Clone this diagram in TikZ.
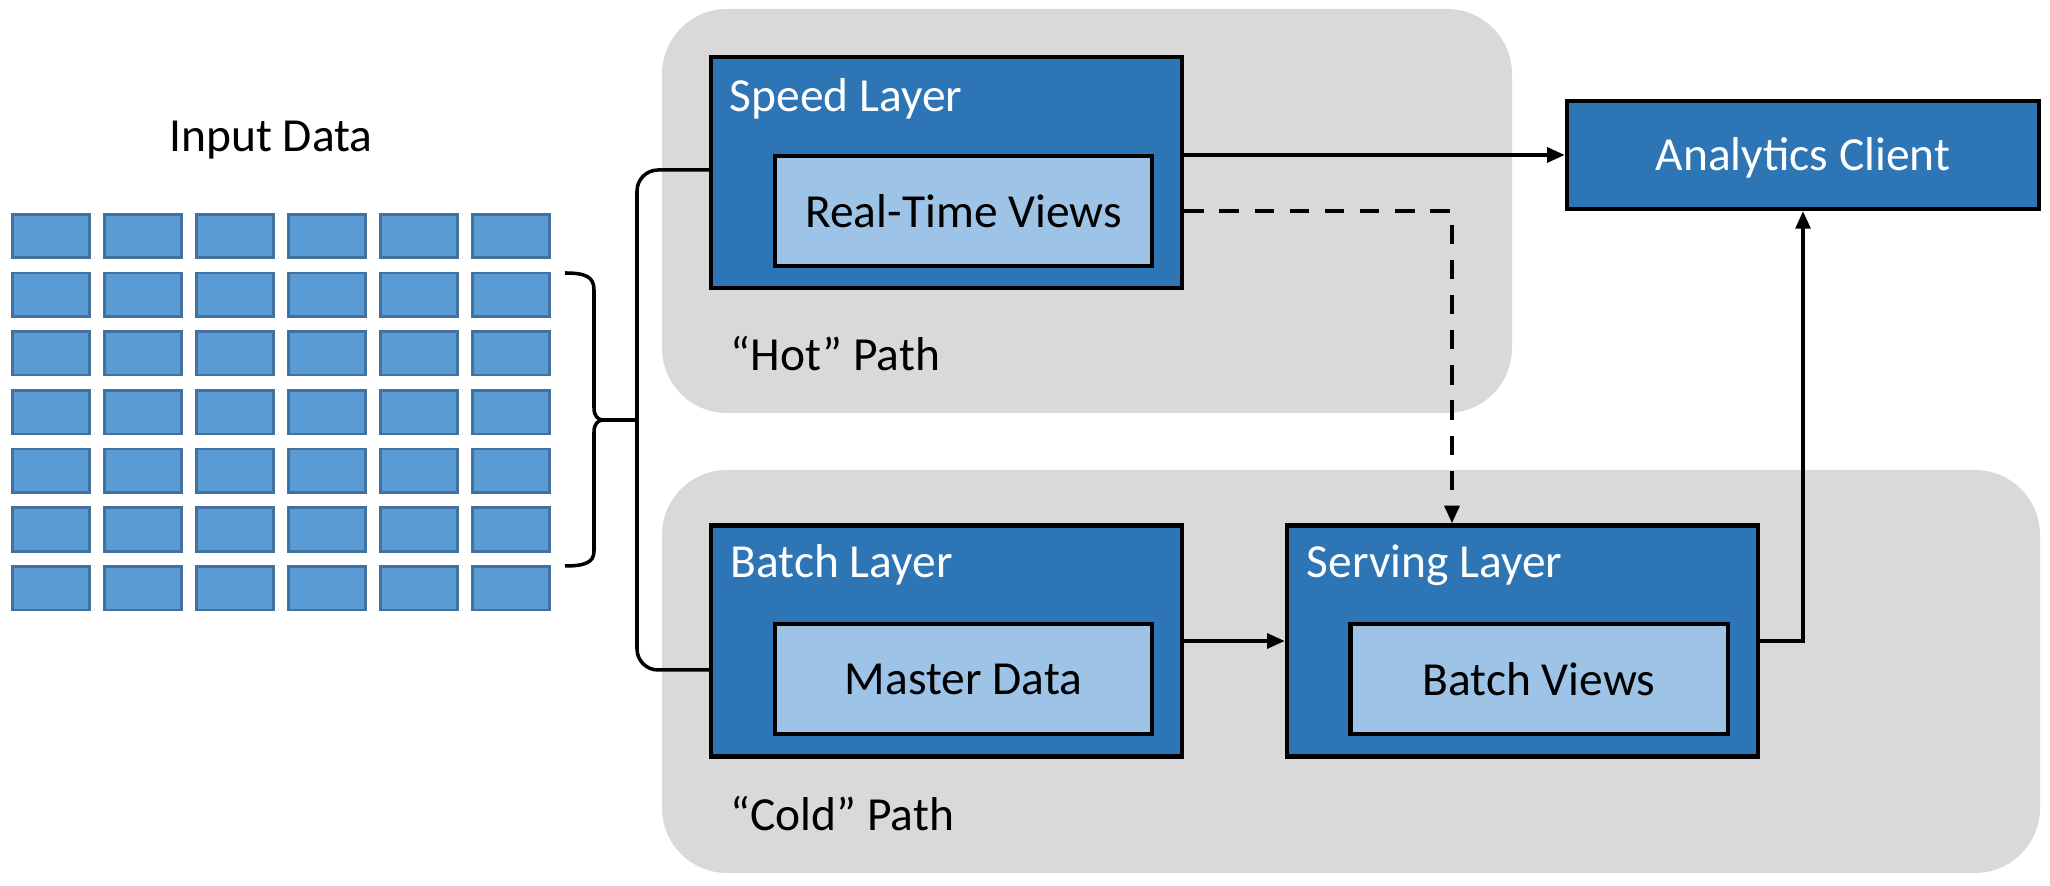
\documentclass[tikz,border=0pt]{standalone}
\usepackage{fontspec}
\setmainfont{Carlito}
\usetikzlibrary{arrows.meta}
\definecolor{layerblue}{HTML}{2E75B6}
\definecolor{viewblue}{HTML}{9DC3E6}
\definecolor{cellblue}{HTML}{5B9BD5}
\definecolor{celledge}{HTML}{41719C}
\definecolor{zonegray}{HTML}{D9D9D9}

\begin{document}
\begin{tikzpicture}[x=0.01cm, y=-0.01cm,
    every node/.style={font=\fontsize{13.5pt}{16pt}\selectfont},
    zone/.style={fill=zonegray, rounded corners=0.65cm},
    cell/.style={draw=celledge, fill=cellblue, line width=0.75pt, inner sep=0, minimum width=0.775cm, minimum height=0.435cm},
    layer/.style={draw=black, fill=layerblue, line width=1.2pt, inner sep=0, minimum width=4.71cm, minimum height=2.31cm},
    view/.style={draw=black, fill=viewblue, line width=1.2pt, inner sep=0, minimum width=3.77cm, minimum height=1.1cm},
    lbl/.style={anchor=base west, inner sep=0, text=white},
    conn/.style={line width=1pt, -{Triangle[length=5pt, width=4.2pt]}}]
        \useasboundingbox (0,0) rectangle (2050,886);
        \path[zone] (662,9) rectangle (1512,413);
        \path[zone] (662,470) rectangle (2040,873);
        \node (input) at (271,140) {Input Data};
        \foreach \i in {0,...,5}
            \foreach \j in {0,...,6}
                \node[cell] (c\i\j) at (51+92*\i, 236+58.7*\j) {};
        \node[layer] (speed) at (946.5,172.5) {};
        \node[view] (rtv) at (963.5,211) {Real-Time Views};
        \node[lbl] (speedlbl) at (729,112) {Speed Layer};
        \node[anchor=base west, inner sep=0] (hot) at (730,371) {“Hot” Path};
        \node[layer] (batch) at (946.5,641) {};
        \node[view] (master) at (963.5,679) {Master Data};
        \node[lbl] (batchlbl) at (730,578) {Batch Layer};
        \node[anchor=base west, inner sep=0] (cold) at (730,831) {“Cold” Path};
        \node[layer] (serving) at (1522.5,641) {};
        \node[view] (bviews) at (1539,679) {Batch Views};
        \node[lbl] (servinglbl) at (1306,578) {Serving Layer};
        \node[layer, minimum width=4.72cm, minimum height=1.08cm] (client) at (1803,155) {};
        \node[lbl, anchor=base] (clientlbl) at (1803,171) {Analytics Client};
        \coordinate (tip) at (603,420);
        \coordinate (fork) at (637,420);
        \coordinate (drop) at (1452,0);
        \draw[line width=1pt] (565,273) .. controls (586,273) and (594,277) .. (594,290) -- (594,408)
            .. controls (594,416) and (598,420) .. (tip) .. controls (598,420) and (594,424) .. (594,432)
            -- (594,551) .. controls (594,562) and (586,566) .. (565,566);
        \draw[line width=1pt] (tip) -- (fork);
        \draw[line width=1pt, rounded corners=6] (speed.west |- 0,170) -| (fork) |- (batch.west |- 0,670);
        \draw[conn] (speed.east |- client.west) -- (client.west);
        \draw[conn, dash pattern=on 5.5pt off 4.5pt] (speed.east |- rtv.east) -| (drop |- serving.north);
        \draw[conn] (batch.east) -- (serving.west);
        \draw[conn] (serving.east) -| (client.south);
    \end{tikzpicture}
\end{document}
